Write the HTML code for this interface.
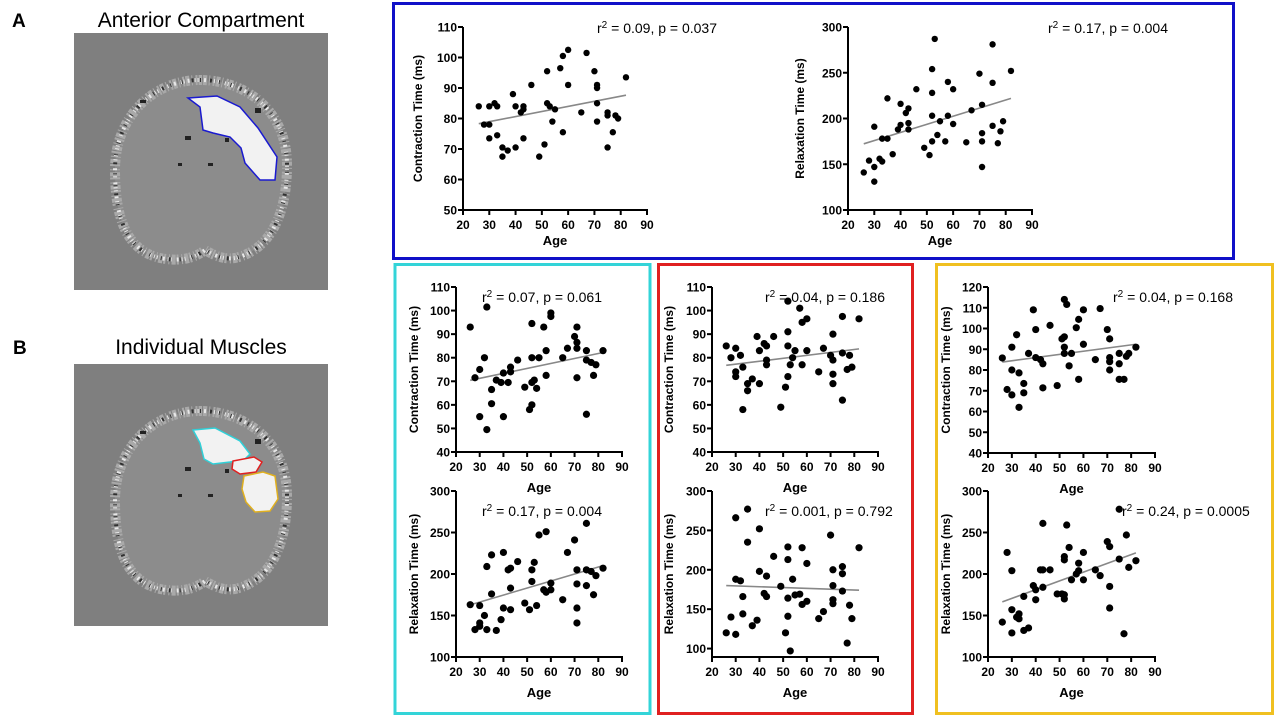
<!DOCTYPE html>
<html><head><meta charset="utf-8">
<style>
html,body{margin:0;padding:0;background:#fff;width:1280px;height:720px;overflow:hidden;font-family:"Liberation Sans",Arial,sans-serif;}
#fig{position:absolute;left:0;top:0;}
</style></head>
<body>
<svg id="fig" width="1280" height="720" viewBox="0 0 1280 720" xmlns="http://www.w3.org/2000/svg">
  <defs>
    <path id="legShape" d="M200,80 C245,80 287,110 287,165 C287,215 270,250 235,258 C222,260 212,254 205,250 C195,258 180,262 160,258 C125,250 115,215 115,170 C115,115 155,80 200,80 Z"/>
  </defs>
  <text x="12" y="27" font-size="19" font-weight="bold">A</text>
  <text x="201" y="27" font-size="21" text-anchor="middle">Anterior Compartment</text>
  <text x="13" y="354" font-size="19" font-weight="bold">B</text>
  <text x="201" y="354" font-size="21" text-anchor="middle">Individual Muscles</text>

  <g>
    <rect x="74" y="33" width="254" height="257" fill="#7f7f7f"/>
    <use href="#legShape" fill="#8c8c8c" stroke="#a9a9a9" stroke-width="10" stroke-dasharray="2 1 4 2 1 3"/>
    <use href="#legShape" fill="none" stroke="#e8e8e8" stroke-width="4" stroke-dasharray="1 3 2 5 1 2"/>
    <use href="#legShape" fill="none" stroke="#303030" stroke-width="4" stroke-dasharray="1 9 2 7 1 11"/>
    <g fill="#222"><rect x="178" y="163" width="4" height="3"/><rect x="208" y="163" width="5" height="3"/><rect x="225" y="138" width="4" height="4"/><rect x="255" y="108" width="6" height="5"/><rect x="185" y="136" width="6" height="4"/><rect x="140" y="100" width="6" height="3"/></g>
    <path d="M188,98 L217,96 L240,107 L258,128 L277,157 L275,180 L260,180 L245,163 L241,148 L230,137 L213,133 L203,130 L200,107 Z" fill="#f2f2f2" stroke="#1a1ad0" stroke-width="1.5"/>
  </g>
  <g transform="translate(0,331)">
    <rect x="74" y="33" width="254" height="262" fill="#7f7f7f"/>
    <use href="#legShape" fill="#8c8c8c" stroke="#a9a9a9" stroke-width="10" stroke-dasharray="2 1 4 2 1 3"/>
    <use href="#legShape" fill="none" stroke="#e8e8e8" stroke-width="4" stroke-dasharray="1 3 2 5 1 2"/>
    <use href="#legShape" fill="none" stroke="#303030" stroke-width="4" stroke-dasharray="1 9 2 7 1 11"/>
    <g fill="#222"><rect x="178" y="163" width="4" height="3"/><rect x="208" y="163" width="5" height="3"/><rect x="225" y="138" width="4" height="4"/><rect x="255" y="108" width="6" height="5"/><rect x="185" y="136" width="6" height="4"/><rect x="140" y="100" width="6" height="3"/></g>
    <path d="M193,99 L215,97 L240,110 L250,123 L245,128 L230,131 L213,133 L204,128 L200,112 Z" fill="#f2f2f2" stroke="#30d0d8" stroke-width="1.5"/>
    <path d="M233,130 L254,126 L262,131 L256,141 L240,143 L232,138 Z" fill="#f2f2f2" stroke="#e02020" stroke-width="1.5"/>
    <path d="M244,145 L263,141 L275,145 L278,168 L270,180 L255,181 L246,171 L242,158 Z" fill="#f2f2f2" stroke="#e0b020" stroke-width="1.5"/>
  </g>

  <rect x="393.5" y="3.5" width="840" height="255" fill="none" stroke="#1010c8" stroke-width="3"/>
  <rect x="395" y="264.5" width="255" height="449" fill="none" stroke="#33d4d8" stroke-width="3"/>
  <rect x="658.5" y="264.5" width="254" height="449" fill="none" stroke="#e02020" stroke-width="3"/>
  <rect x="936.5" y="264.5" width="336" height="449" fill="none" stroke="#f0c020" stroke-width="3"/>
  <g id="plots"></g>
</svg>
<script>
const aCtAge = [26,28,30,30,30,32,33,33,35,35,37,39,40,40,42,43,43,43,46,49,51,52,52,53,55,54,57,58,58,60,60,65,67,70,71,71,71,71,75,75,75,77,78,79,82];
const aCtVal = [84,78,78,84,73.5,85,84,74.5,70.5,67.5,69.5,88,84,70.5,82,84,83,73.5,91,67.5,71.5,95.5,85,84,83,79,96.5,100.5,75.5,102.5,91,82,101.5,95.5,91,90,85,79,82,81,70.5,75.5,81,80,93.5];

const aRtAge = [26,28,30,30,30,32,33,33,35,35,37,39,40,40,42,43,43,43,46,49,51,52,52,52,52,53,54,55,57,58,58,60,60,65,67,70,71,71,71,71,75,75,75,77,78,79,82];
const aRtVal = [141,154,191,147,131,156,153,178,178,222,161,188,216,193,206,211,195,188,232,168,160,254,228,203,175,287,182,197,175,240,203,232,194,174,209,249,215,184,175,147,281,239,192,173,186,197,252];

const cCtAge = [26,28,30,30,32,33,33,35,35,37,39,40,40,42,43,43,46,49,51,52,52,52,53,52,54,55,57,58,58,60,60,65,67,70,71,71,71,71,75,75,75,77,78,79,82];
const cCtVal = [93,71.5,75,55,80,101.5,49.5,66.5,60.5,70.5,69.5,73.5,55,69.5,76,74,79,67.5,58,60,80,94.5,70.5,69.5,67,80,93,83,72.5,99,97.5,80,84,89,93,86.5,84,71.5,83,79,56,78,72.5,77,83];

const cRtAge = [26,28,30,30,30,32,33,33,35,35,37,39,40,40,42,43,43,43,46,49,51,52,52,53,54,55,57,58,58,60,60,65,67,70,71,71,71,71,75,75,75,77,78,79,82];
const cRtVal = [163,133,141,162,137,150,133,209,176,223,132,145,159,226,205,207,157,183,215,165,157,191,205,214,162,247,181,178,251,181,189,169,226,241,205,188,159,141,205,186,261,203,175,198,207];

const rCtAge = [26,28,30,30,30,32,33,33,35,35,37,39,40,40,42,43,43,43,46,49,51,52,52,52,52,53,54,55,57,58,58,60,60,65,67,70,71,71,71,71,75,75,75,77,78,79,82];
const rCtVal = [85,80,84,74,72,81,76,58,69,66,71,89,83,69,86,85,79,77,89,59,67.5,104,91,85,72,77,80,83,101,77,95,96.5,83,74,84,81,90,79,73,69,97.5,82,62,75,81,76,96.5];

const rRtAge = [26,28,30,30,30,32,33,33,35,35,37,39,40,40,42,43,43,46,49,51,52,52,52,52,53,54,55,57,58,58,60,60,65,67,70,71,71,71,71,75,75,75,77,78,79,82];
const rRtVal = [120,140,266,118,188,186,166,144,277,235,129,136,252,198,170,192,166,217,179,120,229,213,164,141,97,188,168,169,156,228,160,208,138,147,244,200,180,162,157,204,195,173,107,155,138,228];

const yCtAge = [26,28,30,30,30,32,33,33,35,35,37,39,40,40,42,43,43,46,49,51,52,52,52,52,53,54,55,57,58,58,60,60,65,67,70,71,71,71,71,75,75,75,77,78,79,82];
const yCtVal = [85.8,70.6,91,80,68,97,78.6,62,73.5,69,88,109,99.5,86,85,83,71.4,101.5,72.5,95,96,114,91,88,111.6,82,88,100.4,104.4,75.5,109,92.4,85,109.6,99.5,95,86,84,80,88,83,75.5,75.5,86.6,88,91];

const yRtAge = [26,28,30,30,30,32,33,33,35,35,37,39,40,40,42,43,43,43,46,49,51,52,52,52,52,53,54,55,57,58,58,60,60,65,67,70,71,71,71,75,75,77,78,79,82];
const yRtVal = [142,226,204,157,129,148,146,152,132,173,135,186,169,181,205,261,205,184,205,176,176,170,175,221,217,259,232,193,200,213,204,226,193,205,198,239,233,185,159,278,218,128,247,208,216];

const xTicks = [20,30,40,50,60,70,80,90];
const ctTicks = [50,60,70,80,90,100,110];
const ctTicks40 = [40,50,60,70,80,90,100,110];
const ctTicks120 = [40,50,60,70,80,90,100,110,120];
const rtTicks = [100,150,200,250,300];
const statLabels = ["0.09, p = 0.037","0.17, p = 0.004","0.07, p = 0.061","0.17, p = 0.004","0.04, p = 0.186","0.001, p = 0.792","0.04, p = 0.168","0.24, p = 0.0005"];

const NS = "http://www.w3.org/2000/svg";
const root = document.getElementById('plots');
function el(tag, parent){ const e = document.createElementNS(NS, tag); parent.appendChild(e); return e; }

function drawPlot(cfg, ages, vals, ticks, stat, name){
  const g = el('g', root);
  
  
  const sx = a => cfg.x0 + (a-20)/70*(cfg.x1-cfg.x0);
  const sy = v => cfg.yBot - (v-cfg.ymin)/(cfg.ymax-cfg.ymin)*(cfg.yBot-cfg.yTop);
  const n = ages.length;
  let mx=0,my=0; for(let i=0;i<n;i++){mx+=ages[i];my+=vals[i];} mx/=n; my/=n;
  let sxy=0,sxx=0; for(let i=0;i<n;i++){sxy+=(ages[i]-mx)*(vals[i]-my);sxx+=(ages[i]-mx)**2;}
  const b = sxy/sxx, a0 = my-b*mx;
  const ya = el('line', g);
  
  
  ya.setAttribute('x1', cfg.x0); ya.setAttribute('x2', cfg.x0);
  ya.setAttribute('y1', cfg.yTop); ya.setAttribute('y2', cfg.yBot+1);
  ya.setAttribute('stroke', '#000'); ya.setAttribute('stroke-width', 2);
  const xa = el('line', g);
  
  
  xa.setAttribute('x1', cfg.x0-1); xa.setAttribute('x2', cfg.x1+1);
  xa.setAttribute('y1', cfg.yBot); xa.setAttribute('y2', cfg.yBot);
  xa.setAttribute('stroke', '#000'); xa.setAttribute('stroke-width', 2);
  xTicks.forEach(t => {
    const x = sx(t);
    const tl = el('line', g);
    
    
    tl.setAttribute('x1', x); tl.setAttribute('x2', x); tl.setAttribute('y1', cfg.yBot); tl.setAttribute('y2', cfg.yBot+5);
    tl.setAttribute('stroke', '#000'); tl.setAttribute('stroke-width', 2);
    const tx = el('text', g);
    
    
    tx.setAttribute('x', x); tx.setAttribute('y', cfg.yBot+19);
    tx.setAttribute('text-anchor', 'middle'); tx.setAttribute('font-size', 12); tx.setAttribute('font-weight', 'bold');
    tx.textContent = t;
  });
  ticks.forEach(t => {
    const y = sy(t);
    const tl = el('line', g);
    
    
    tl.setAttribute('x1', cfg.x0-5); tl.setAttribute('x2', cfg.x0); tl.setAttribute('y1', y); tl.setAttribute('y2', y);
    tl.setAttribute('stroke', '#000'); tl.setAttribute('stroke-width', 2);
    const tx = el('text', g);
    
    
    tx.setAttribute('x', cfg.x0-6); tx.setAttribute('y', y+4.5);
    tx.setAttribute('text-anchor', 'end'); tx.setAttribute('font-size', 12); tx.setAttribute('font-weight', 'bold');
    tx.textContent = t;
  });
  const xt = el('text', g);
  
  
  xt.setAttribute('x', (cfg.x0+cfg.x1)/2); xt.setAttribute('y', cfg.yBot+cfg.ageDy);
  xt.setAttribute('text-anchor', 'middle'); xt.setAttribute('font-size', 13); xt.setAttribute('font-weight', 'bold');
  xt.textContent = 'Age';
  const yt = el('text', g);
  
  
  const cy = (cfg.yTop+cfg.yBot)/2;
  yt.setAttribute('x', cfg.ytx); yt.setAttribute('y', cy);
  yt.setAttribute('transform', 'rotate(-90 '+cfg.ytx+' '+cy+')');
  yt.setAttribute('text-anchor', 'middle'); yt.setAttribute('font-size', 12); yt.setAttribute('font-weight', 'bold');
  yt.textContent = cfg.ytitle;
  const tr = el('line', g);
  
  
  const amin = Math.min(...ages), amax = Math.max(...ages);
  tr.setAttribute('x1', sx(amin)); tr.setAttribute('y1', sy(a0+b*amin));
  tr.setAttribute('x2', sx(amax)); tr.setAttribute('y2', sy(a0+b*amax));
  tr.setAttribute('stroke', '#888'); tr.setAttribute('stroke-width', 1.6);
  for(let i=0;i<n;i++){
    const c = el('circle', g);
    
    
    c.setAttribute('cx', sx(ages[i])); c.setAttribute('cy', sy(vals[i]));
    c.setAttribute('r', cfg.r); c.setAttribute('fill', '#000');
  }
  const st = el('text', g);
  
  
  st.setAttribute('x', cfg.sx); st.setAttribute('y', cfg.sy);
  st.setAttribute('font-size', 14);
  const t1 = el('tspan', st); t1.textContent = 'r';
  const t2 = el('tspan', st); t2.setAttribute('dy', -5); t2.setAttribute('font-size', 10); t2.textContent = '2';
  const t3 = el('tspan', st); t3.setAttribute('dy', 5); t3.textContent = ' = ' + stat;
}

const CT = 'Contraction Time (ms)', RT = 'Relaxation Time (ms)';
drawPlot({x0:463,x1:647,yTop:27,yBot:210,ymin:50,ymax:110,r:3.2,ageDy:35,ytx:422,ytitle:CT,sx:597,sy:33}, aCtAge, aCtVal, ctTicks, statLabels[0], 'plot-anterior-contraction');
drawPlot({x0:848,x1:1032,yTop:27,yBot:210,ymin:100,ymax:300,r:3.2,ageDy:35,ytx:804,ytitle:RT,sx:1048,sy:33}, aRtAge, aRtVal, rtTicks, statLabels[1], 'plot-anterior-relaxation');
drawPlot({x0:456,x1:622,yTop:287,yBot:452,ymin:40,ymax:110,r:3.6,ageDy:40,ytx:418,ytitle:CT,sx:482,sy:302}, cCtAge, cCtVal, ctTicks40, statLabels[2], 'plot-cyan-contraction');
drawPlot({x0:456,x1:622,yTop:491,yBot:657,ymin:100,ymax:300,r:3.6,ageDy:40,ytx:418,ytitle:RT,sx:482,sy:516}, cRtAge, cRtVal, rtTicks, statLabels[3], 'plot-cyan-relaxation');
drawPlot({x0:712,x1:878,yTop:287,yBot:452,ymin:40,ymax:110,r:3.6,ageDy:40,ytx:673,ytitle:CT,sx:765,sy:302}, rCtAge, rCtVal, ctTicks40, statLabels[4], 'plot-red-contraction');
drawPlot({x0:712,x1:878,yTop:491,yBot:657,ymin:89.3,ymax:300,r:3.6,ageDy:40,ytx:673,ytitle:RT,sx:765,sy:516}, rRtAge, rRtVal, rtTicks, statLabels[5], 'plot-red-relaxation');
drawPlot({x0:988,x1:1155,yTop:287,yBot:453,ymin:40,ymax:120,r:3.6,ageDy:40,ytx:950,ytitle:CT,sx:1113,sy:302}, yCtAge, yCtVal, ctTicks120, statLabels[6], 'plot-yellow-contraction');
drawPlot({x0:988,x1:1155,yTop:491,yBot:657,ymin:100,ymax:300,r:3.6,ageDy:40,ytx:950,ytitle:RT,sx:1122,sy:516}, yRtAge, yRtVal, rtTicks, statLabels[7], 'plot-yellow-relaxation');
</script>
</body></html>
